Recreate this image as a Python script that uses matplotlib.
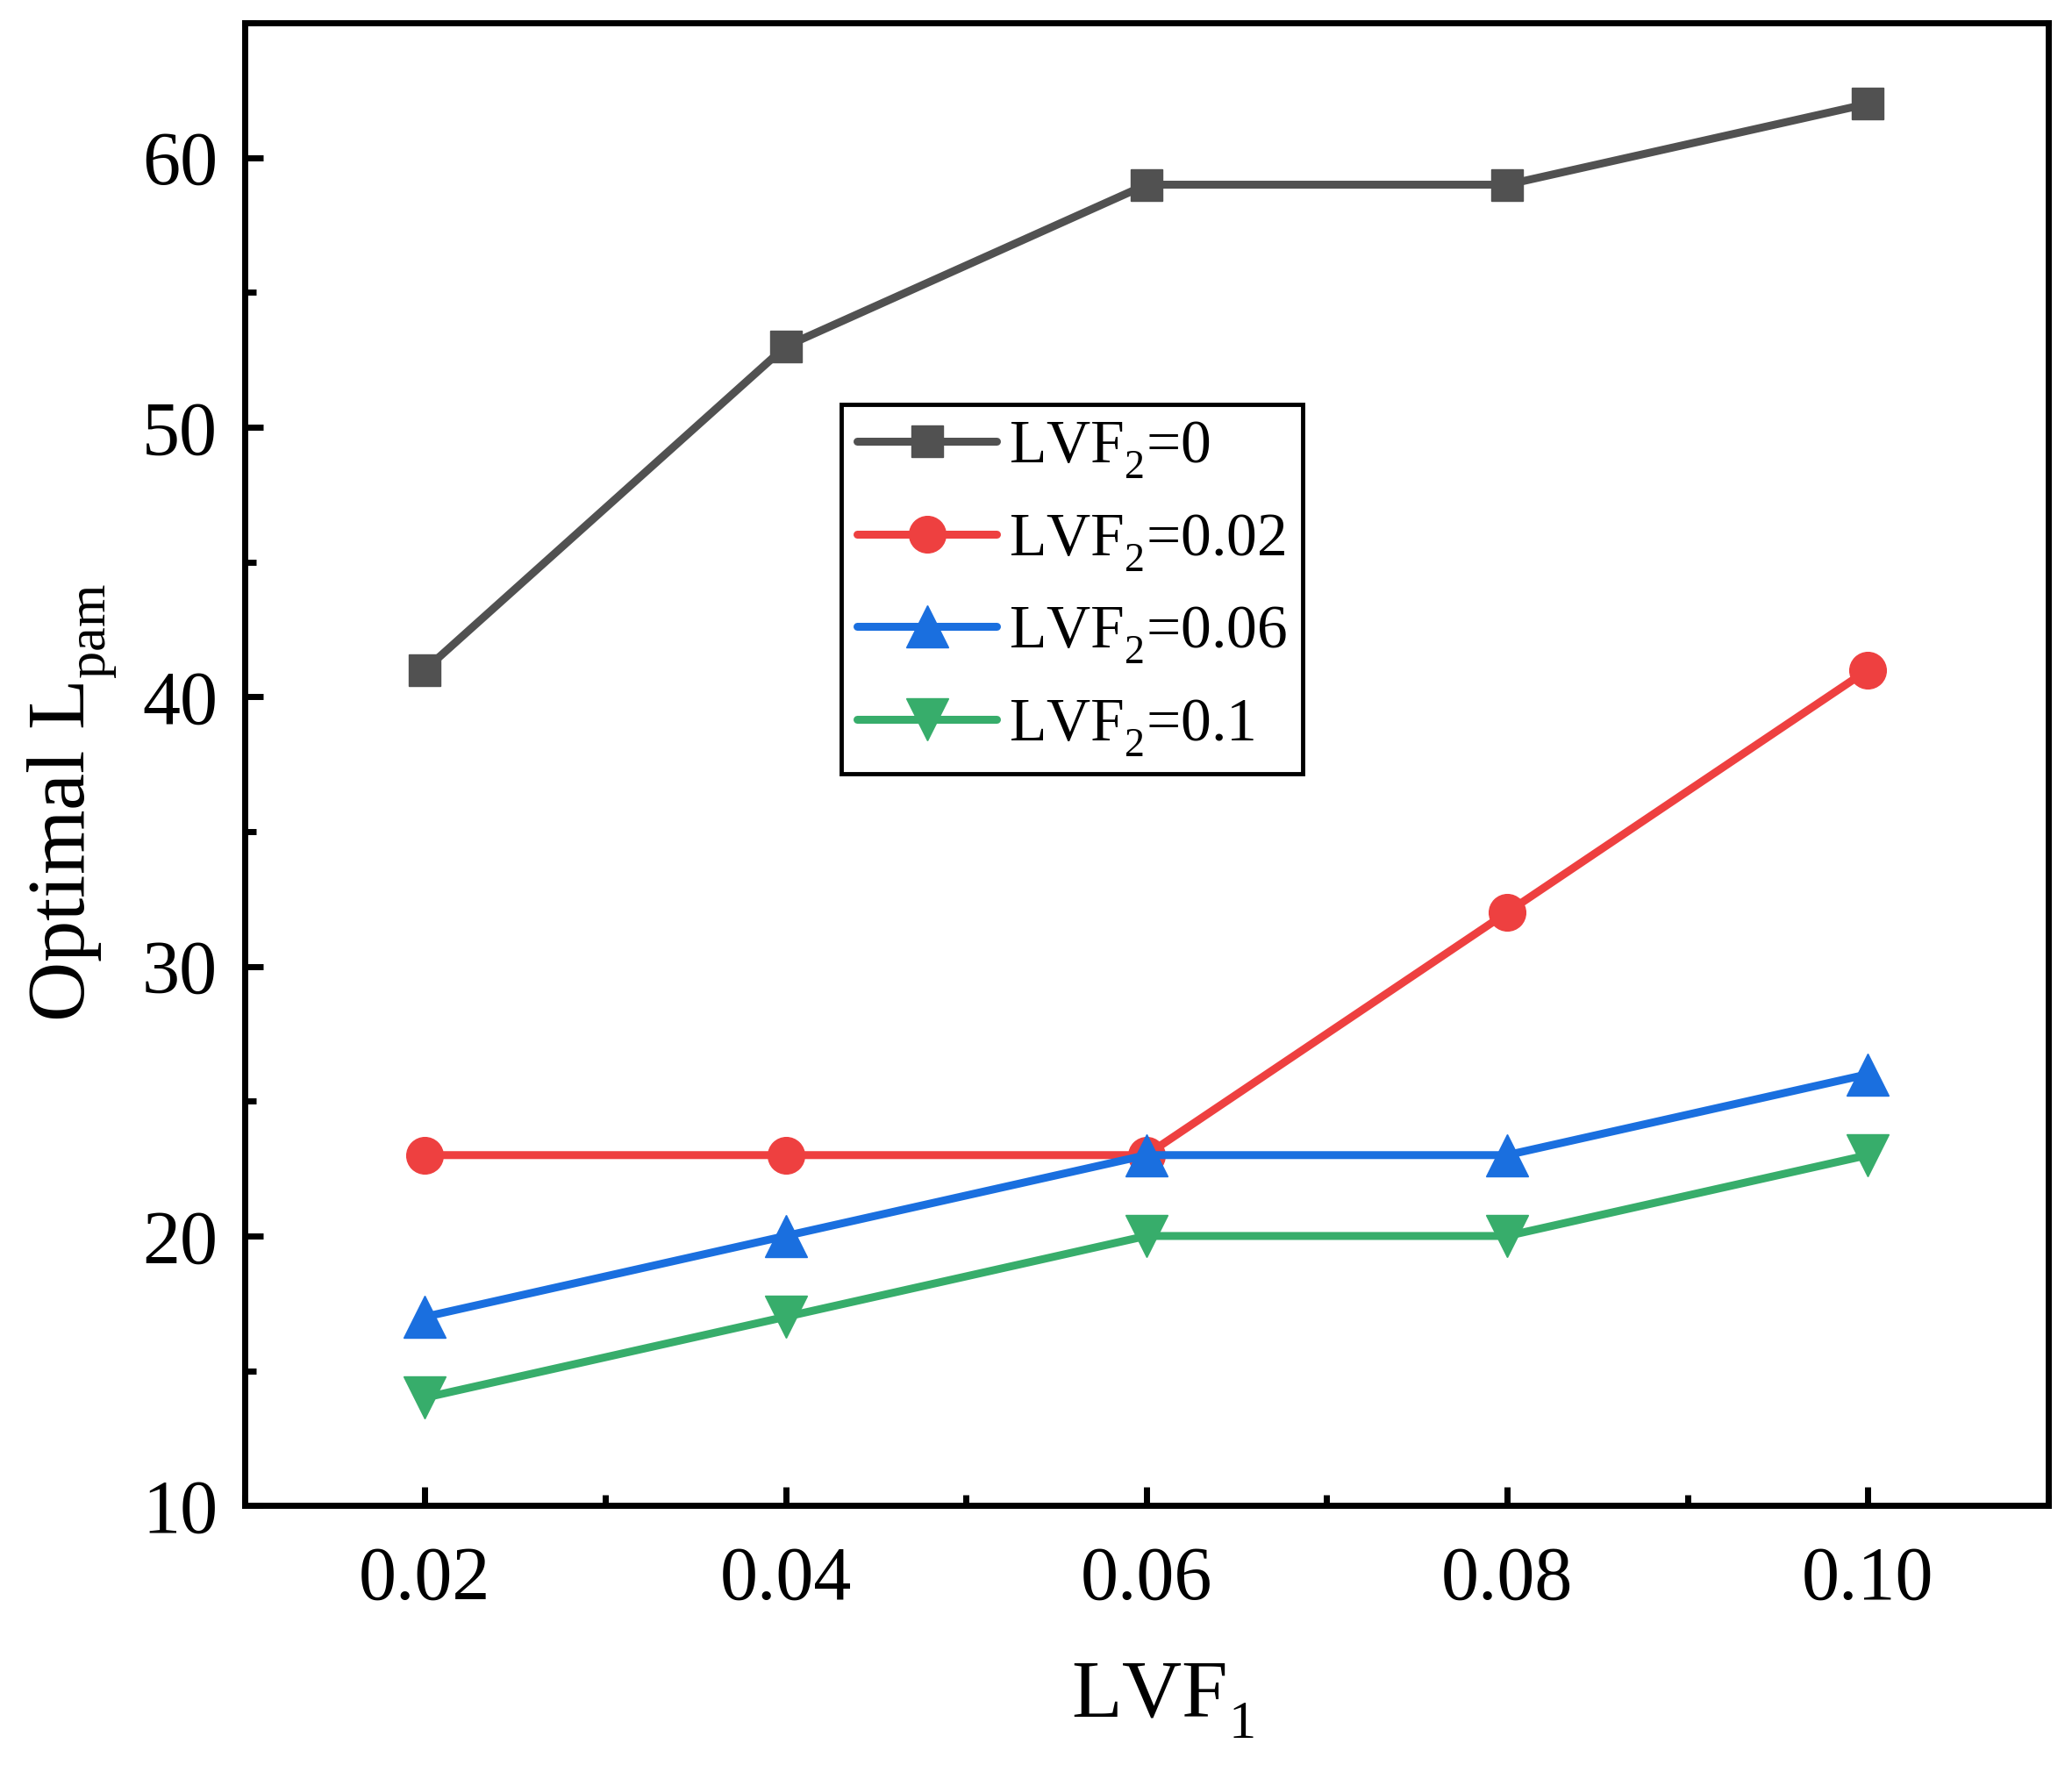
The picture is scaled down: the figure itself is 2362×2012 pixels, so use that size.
import matplotlib
matplotlib.use("Agg")
import matplotlib.pyplot as plt
from matplotlib.ticker import MultipleLocator
try:
    import matplotlib._mathtext as _mt
    _mt.FontConstantsBase.sub1 = 0.58
    _mt.SHRINK_FACTOR = 0.66
except Exception:
    pass

plt.rcParams['font.family'] = 'serif'
plt.rcParams['font.serif'] = ['Liberation Serif']
plt.rcParams['mathtext.fontset'] = 'custom'
plt.rcParams['mathtext.rm'] = 'Liberation Serif'
plt.rcParams['mathtext.it'] = 'Liberation Serif:italic'
plt.rcParams['mathtext.bf'] = 'Liberation Serif:bold'
plt.rcParams['mathtext.default'] = 'regular'

lvf1 = [0.02, 0.04, 0.06, 0.08, 0.10]
lvf2_0 = [41, 53, 59, 59, 62]
lvf2_002 = [23, 23, 23, 32, 41]
lvf2_006 = [17, 20, 23, 23, 26]
lvf2_01 = [14, 17, 20, 20, 23]
labels = ['LVF$_2$=0', 'LVF$_2$=0.02', 'LVF$_2$=0.06', 'LVF$_2$=0.1']
xticklabels = ['0.02', '0.04', '0.06', '0.08', '0.10']

colors = ['#515151', '#EE4040', '#1A6FDF', '#37AD6B']
markers = ['s', 'o', '^', 'v']
msizes = [26, 30, 34, 34]

fig = plt.figure(figsize=(23.62, 20.12), dpi=100)
ax = fig.add_axes([0.118, 0.147, 0.8705, 0.840])

series = [lvf2_0, lvf2_002, lvf2_006, lvf2_01]
for ys, c, m, ms, lab in zip(series, colors, markers, msizes, labels):
    ax.plot(lvf1, ys, color=c, marker=m, markersize=ms, linewidth=6.5,
            label=lab, solid_capstyle='round')

ax.set_xlim(0.01, 0.11)
ax.set_ylim(10, 65)
ax.set_xticks(lvf1)
ax.set_xticklabels(xticklabels)
ax.xaxis.set_minor_locator(MultipleLocator(0.01))
ax.yaxis.set_major_locator(MultipleLocator(10))
ax.yaxis.set_minor_locator(MultipleLocator(5))

for s in ax.spines.values():
    s.set_linewidth(5.0)
ax.tick_params(which='both', direction='in', top=False, right=False, width=5.0)
ax.tick_params(which='major', length=15, labelsize=62)
ax.tick_params(axis='x', which='major', pad=33)
ax.tick_params(axis='y', which='major', pad=22)
ax.tick_params(which='minor', length=9)

ax.set_xlabel('LVF$_1$', fontsize=68, labelpad=38)
ax.set_ylabel('Optimal L$_{pam}$', fontsize=68, labelpad=19)
ax.xaxis.label.set_x(0.509)
ax.yaxis.label.set_y(0.474)

leg = ax.legend(loc='upper left', bbox_to_anchor=(0.331, 0.7427), borderaxespad=0,
                fontsize=50, frameon=True, fancybox=False, edgecolor='black',
                handlelength=2.3, labelspacing=0.52, handletextpad=0.2,
                borderpad=0.25, framealpha=1)
leg.get_frame().set_linewidth(3.5)

fig.savefig('out.png', dpi=100)
